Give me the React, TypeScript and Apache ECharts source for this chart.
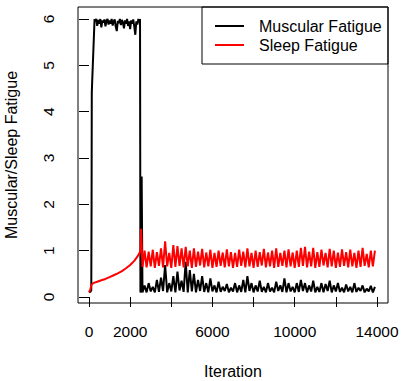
import React, { useEffect, useRef } from "react";
import * as echarts from "echarts";

// Early phase (iteration, value) for each series
const muscularEarlyIter = [0, 60, 110, 125, 135, 150, 270,
  300, 350, 400, 450, 500, 550, 600, 650, 700, 750, 800, 850, 900, 950, 1000, 1050, 1100, 1150,
  1200, 1250, 1300, 1350, 1400, 1450, 1500, 1550, 1600, 1650, 1700, 1750, 1800, 1850, 1900, 1950,
  2000, 2050, 2100, 2150, 2200, 2250, 2300, 2350, 2400, 2450, 2480, 2500, 2530, 2560, 2600];
const muscularEarly = [0.1, 0.11, 0.14, 2.0, 4.4, 4.6, 6.0,
  5.95, 6.0, 5.85, 5.98, 5.9, 6.0, 5.82, 5.97, 5.92, 5.99, 5.84, 5.96, 6.0, 5.88, 5.97, 5.9, 6.0, 5.86,
  5.95, 5.99, 5.83, 5.74, 5.96, 5.91, 6.0, 5.87, 5.98, 5.92, 5.8, 5.97, 5.9, 6.0, 5.85, 5.95,
  5.78, 5.97, 5.9, 5.99, 5.84, 5.66, 5.95, 5.88, 6.0, 5.93, 6.0, 0.1, 0.12, 2.6, 0.1];

const sleepEarlyIter = [0, 60, 120, 200, 400, 600, 800, 1000, 1200, 1400, 1600, 1800, 2000, 2200, 2350, 2480, 2500, 2530, 2600];
const sleepEarly = [0.1, 0.16, 0.26, 0.3, 0.33, 0.36, 0.39, 0.43, 0.47, 0.51, 0.56, 0.62, 0.69, 0.78, 0.87, 0.97, 1.0, 1.47, 0.65];

// Late phase: peaks every 200 iterations from 2700, troughs in between
const peakIter = Array.from({ length: 57 }, (_, k) => 2700 + 200 * k);
const troughIter = Array.from({ length: 56 }, (_, k) => 2800 + 200 * k);

const sleepPeaks = [1.0, 0.98, 1.02, 0.97, 1.05, 1.2, 0.95, 1.12, 1.1, 1.05, 1.08, 1.0, 1.05, 0.98, 1.04, 0.96, 1.02, 0.95, 1.0, 0.96,
  1.03, 0.97, 0.95, 1.02, 0.98, 1.05, 0.95, 1.0, 0.97, 1.04, 0.96, 1.0, 1.05, 0.95, 1.0, 1.03, 0.96, 1.0, 1.06, 1.08,
  0.98, 1.06, 0.97, 1.02, 0.95, 1.04, 1.0, 0.96, 1.03, 0.97, 1.02, 0.95, 1.0, 1.06, 0.93, 1.0, 1.0];
const sleepTroughs = [0.64, 0.66, 0.63, 0.67, 0.64, 0.66, 0.63, 0.65, 0.67, 0.64, 0.66, 0.63, 0.65, 0.68, 0.64, 0.66, 0.63, 0.65, 0.67, 0.64,
  0.66, 0.63, 0.65, 0.67, 0.64, 0.66, 0.63, 0.65, 0.68, 0.64, 0.66, 0.63, 0.65, 0.67, 0.64, 0.66, 0.63, 0.65, 0.67, 0.64,
  0.66, 0.63, 0.65, 0.68, 0.64, 0.66, 0.63, 0.65, 0.67, 0.64, 0.66, 0.63, 0.65, 0.67, 0.64, 0.66];

const muscularPeaks = [0.25, 0.3, 0.22, 0.37, 0.42, 0.69, 0.3, 0.45, 0.55, 0.35, 0.76, 0.58, 0.5, 0.37, 0.45, 0.3, 0.4, 0.25, 0.33, 0.22,
  0.28, 0.2, 0.3, 0.25, 0.37, 0.45, 0.3, 0.25, 0.35, 0.22, 0.3, 0.2, 0.33, 0.25, 0.4, 0.3, 0.22, 0.3, 0.37, 0.3,
  0.25, 0.35, 0.22, 0.3, 0.28, 0.35, 0.25, 0.3, 0.2, 0.27, 0.22, 0.3, 0.2, 0.25, 0.18, 0.24, 0.22];
const muscularTroughs = [0.1, 0.12, 0.1, 0.11, 0.13, 0.1, 0.12, 0.1, 0.14, 0.11, 0.1, 0.12, 0.1, 0.13, 0.11, 0.1, 0.12, 0.1, 0.11, 0.13,
  0.1, 0.12, 0.1, 0.11, 0.1, 0.13, 0.1, 0.12, 0.11, 0.1, 0.12, 0.1, 0.13, 0.11, 0.1, 0.12, 0.1, 0.11, 0.13, 0.1,
  0.12, 0.1, 0.11, 0.1, 0.13, 0.1, 0.12, 0.11, 0.1, 0.12, 0.1, 0.11, 0.13, 0.1, 0.12, 0.1];

const xTicks = [0, 2000, 4000, 6000, 8000, 10000, 12000, 14000];
const xTickLabels = [0, 2000, 6000, 10000, 14000];
const yTicks = [0, 1, 2, 3, 4, 5, 6];

const FONT = "'Liberation Sans', Arial, Helvetica, sans-serif";

function buildSeries(earlyIter: number[], early: number[], peaks: number[], troughs: number[]) {
  const data: number[][] = earlyIter.map((x, i) => [x, early[i]]);
  for (let k = 0; k < peakIter.length; k++) {
    if (peaks[k] !== undefined) data.push([peakIter[k], peaks[k]]);
    if (k < troughIter.length && troughs[k] !== undefined) data.push([troughIter[k], troughs[k]]);
  }
  return data;
}

export default function App() {
  const ref = useRef<HTMLDivElement>(null);
  useEffect(() => {
    if (!ref.current) return;
    const chart = echarts.init(ref.current, null, { renderer: "svg" });
    chart.setOption({
      animation: false,
      backgroundColor: "#fff",
      grid: {
        left: 78,
        right: 14,
        top: 7,
        bottom: 78,
        show: true,
        borderColor: "#000",
        borderWidth: 1,
        containLabel: false,
        outerBoundsMode: "none",
      },
      xAxis: {
        type: "value",
        min: -535,
        max: 14535,
        axisLine: { show: false },
        splitLine: { show: false },
        axisTick: { show: true, length: 10, lineStyle: { color: "#000" }, customValues: xTicks },
        axisLabel: {
          customValues: xTickLabels,
          formatter: (v: number) => String(v),
          color: "#000",
          fontSize: 15.5,
          fontFamily: FONT,
          margin: 20,
        },
        name: "Iteration",
        nameLocation: "middle",
        nameGap: 60,
        nameTextStyle: { color: "#000", fontSize: 16, fontFamily: FONT },
      },
      yAxis: {
        type: "value",
        min: -0.1295,
        max: 6.259,
        axisLine: { show: false },
        splitLine: { show: false },
        axisTick: { show: true, length: 10, lineStyle: { color: "#000" }, customValues: yTicks },
        axisLabel: {
          customValues: yTicks,
          formatter: (v: number) => String(v),
          color: "#000",
          fontSize: 15.5,
          fontFamily: FONT,
          margin: 22,
          rotate: 90,
        },
        name: "Muscular/Sleep Fatigue",
        nameLocation: "middle",
        nameGap: 59,
        nameTextStyle: { color: "#000", fontSize: 16, fontFamily: FONT },
      },
      legend: {
        orient: "vertical",
        left: 215,
        top: 18,
        padding: 0,
        itemGap: 3,
        itemWidth: 29,
        itemHeight: 2,
        icon: "rect",
        textStyle: { color: "#000", fontSize: 16, fontFamily: FONT, padding: [0, 0, 0, 10], lineHeight: 16 },
        data: ["Muscular Fatigue", "Sleep Fatigue"],
      },
      graphic: [
        {
          type: "rect",
          shape: { x: 202, y: 7, width: 186, height: 57 },
          style: { fill: "none", stroke: "#000", lineWidth: 1 },
          silent: true,
        },
      ],
      series: [
        {
          name: "Muscular Fatigue",
          type: "line",
          showSymbol: false,
          symbol: "none",
          color: "#000",
          lineStyle: { color: "#000", width: 2 },
          data: buildSeries(muscularEarlyIter, muscularEarly, muscularPeaks, muscularTroughs),
        },
        {
          name: "Sleep Fatigue",
          type: "line",
          showSymbol: false,
          symbol: "none",
          color: "#ff0000",
          lineStyle: { color: "#ff0000", width: 2 },
          data: buildSeries(sleepEarlyIter, sleepEarly, sleepPeaks, sleepTroughs),
        },
      ],
    });
    return () => chart.dispose();
  }, []);
  return <div ref={ref} style={{ position: "fixed", left: 0, top: 0, width: 402, height: 381 }} />;
}
